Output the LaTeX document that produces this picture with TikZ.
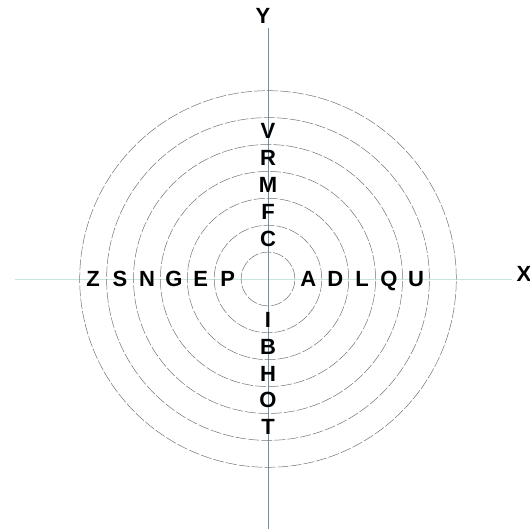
\documentclass[tikz,border=0pt]{standalone}
\usepackage{fontspec}
\setmainfont{Liberation Sans}
\usetikzlibrary{calc}
\begin{document}
\begin{tikzpicture}[x=1pt,y=1pt,
  haxis/.style={draw={rgb,255:red,200;green,230;blue,222}, line width=0.9pt},
  vaxis/.style={draw={rgb,255:red,125;green,142;blue,152}, line width=0.9pt},
  ring/.style={draw=black!55, line width=0.5pt, dash pattern=on 11pt off 2pt},
  lab/.style={font=\fontsize{22}{22}\selectfont\bfseries, inner sep=0pt, text height=15.8pt, text depth=0pt, anchor=center},
  axlab/.style={lab}]
\useasboundingbox (0,0) rectangle (530,529);
\coordinate (O) at (268,250);
\coordinate (xl) at (15,250);
\coordinate (xr) at (512,250);
\coordinate (yt) at (268,501);
\coordinate (yb) at (268,0);
\draw[haxis] (xl) -- (xr);
\draw[vaxis] (yb) -- (yt);
\foreach \k in {1,...,7} \draw[ring] (O) circle ({26.9*\k});
% left labels
\foreach \t/\n in {P/1,E/2,G/3,N/4,S/5,Z/6}
  \node[lab] (\t) at ($(O)+({-26.9*(\n+0.5)},0)$) {\t};
% right labels
\foreach \t/\n in {A/1,D/2,L/3,Q/4,U/5}
  \node[lab] (\t) at ($(O)+({26.9*(\n+0.5)},0)$) {\t};
% top labels
\foreach \t/\n in {C/1,F/2,M/3,R/4,V/5}
  \node[lab] (\t) at ($(O)+(0,{26.9*(\n+0.5)})$) {\t};
% bottom labels
\foreach \t/\n in {I/1,B/2,H/3,O/4,T/5}
  \node[lab] (lab\t) at ($(O)+(0,{-26.9*(\n+0.5)})$) {\t};
\node[axlab] (X) at (524,255) {X};
\node[axlab] (Y) at (263,513) {Y};
\end{tikzpicture}
\end{document}
